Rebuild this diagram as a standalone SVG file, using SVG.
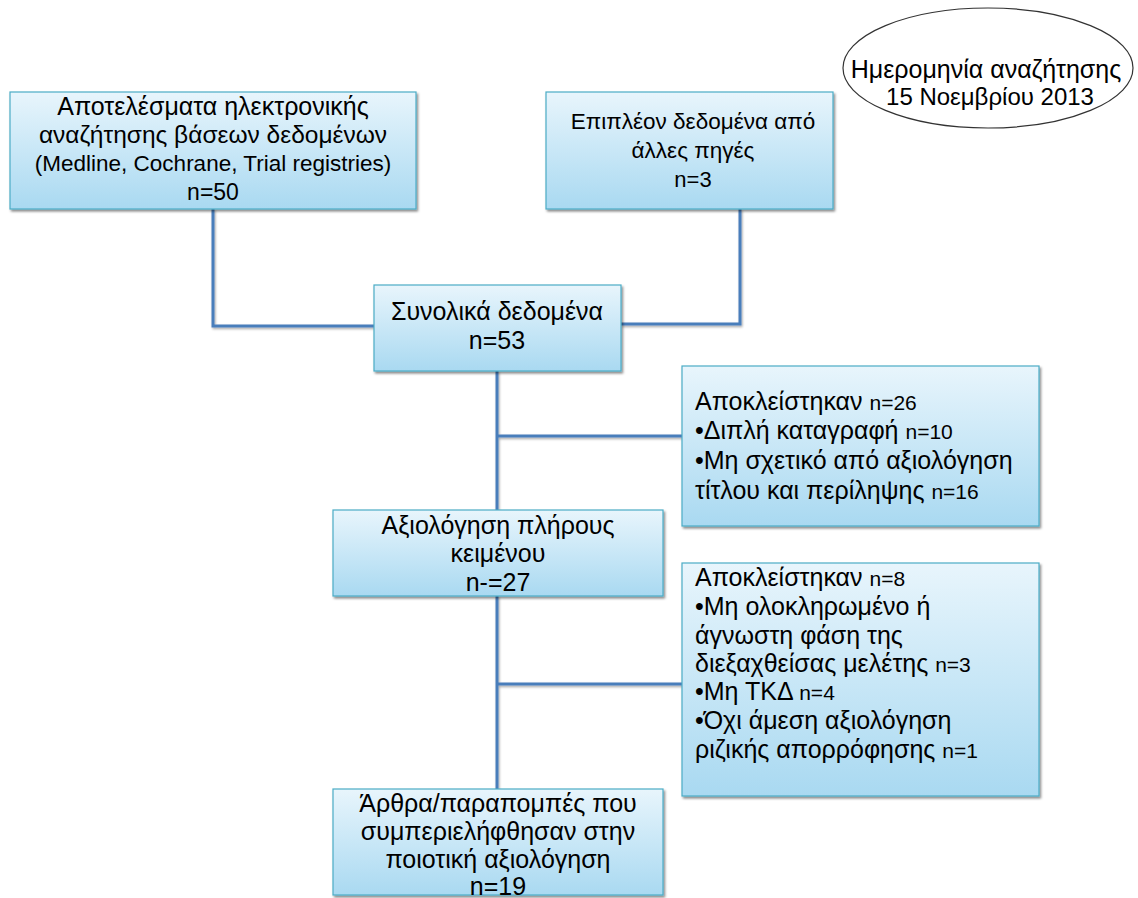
<svg xmlns="http://www.w3.org/2000/svg" width="1138" height="898" viewBox="0 0 1138 898">
  <style>
    .box { fill: url(#boxFill); stroke: #4bacc6; stroke-width: 1.2; filter: url(#shadow); }
    .link { fill: none; stroke: #4a7ebb; stroke-width: 3; }
    text { font-family: "Liberation Sans", Arial, sans-serif; font-size: 25px; fill: #000; }
    .c { text-anchor: middle; }
    .n { font-size: 21px; }
    .small { font-size: 22.5px; }
    .paren { font-size: 22.5px; }
  </style>
  <defs>
    <linearGradient id="boxFill" x1="0" y1="0" x2="0" y2="1">
      <stop offset="0" stop-color="#e8f5fc"/>
      <stop offset="1" stop-color="#a9d9f1"/>
    </linearGradient>
    <filter id="shadow" x="-5%" y="-5%" width="110%" height="115%">
      <feDropShadow dx="1.5" dy="2" stdDeviation="1.2" flood-color="#000" flood-opacity="0.45"/>
    </filter>
    <filter id="lineShadow" filterUnits="userSpaceOnUse" x="0" y="0" width="1138" height="898">
      <feDropShadow dx="1" dy="1.5" stdDeviation="0.8" flood-color="#000" flood-opacity="0.35"/>
    </filter>
  </defs>

  <g id="connectors" filter="url(#lineShadow)">
    <polyline class="link" points="213,209 213,326 374,326"/>
    <polyline class="link" points="740,209 740,324 621,324"/>
    <line class="link" x1="497" y1="371" x2="497" y2="510"/>
    <line class="link" x1="497" y1="436" x2="682" y2="436"/>
    <line class="link" x1="497" y1="596" x2="497" y2="789"/>
    <line class="link" x1="497" y1="684" x2="682" y2="684"/>
  </g>

  <g id="search-date">
    <ellipse cx="988" cy="68" rx="145" ry="60" fill="#fff" stroke="#333" stroke-width="1.2"/>
    <text class="c" x="986" y="78">Ημερομηνία αναζήτησης</text>
    <text class="c" x="990" y="105" style="font-size:24px">15 Νοεμβρίου 2013</text>
  </g>

  <g id="database-results">
    <rect class="box" x="10" y="92" width="406" height="117"/>
    <text class="c" x="213" y="115">Αποτελέσματα ηλεκτρονικής</text>
    <text class="c" x="213" y="143" style="font-size:24.5px">αναζήτησης βάσεων δεδομένων</text>
    <text class="c paren" x="213" y="171">(Medline, Cochrane, Trial registries)</text>
    <text class="c" x="213" y="200" style="font-size:23px">n=50</text>
  </g>

  <g id="other-sources">
    <rect class="box" x="546" y="92" width="287" height="117"/>
    <text class="c small" x="693" y="129">Επιπλέον δεδομένα από</text>
    <text class="c small" x="693" y="158">άλλες πηγές</text>
    <text class="c" x="693" y="187" style="font-size:22px">n=3</text>
  </g>

  <g id="total-records">
    <rect class="box" x="374" y="285" width="247" height="86"/>
    <text class="c" x="497" y="320">Συνολικά δεδομένα</text>
    <text class="c" x="497" y="349">n=53</text>
  </g>

  <g id="excluded-screening">
    <rect class="box" x="682" y="366" width="357" height="160"/>
    <text x="695" y="410">Αποκλείστηκαν <tspan class="n">n=26</tspan></text>
    <text x="695" y="439">•Διπλή καταγραφή <tspan class="n">n=10</tspan></text>
    <text x="695" y="469">•Μη σχετικό από αξιολόγηση</text>
    <text x="695" y="499">τίτλου και περίληψης <tspan class="n">n=16</tspan></text>
  </g>

  <g id="full-text">
    <rect class="box" x="333" y="510" width="330" height="86"/>
    <text class="c" x="498" y="534">Αξιολόγηση πλήρους</text>
    <text class="c" x="498" y="562">κειμένου</text>
    <text class="c" x="498" y="591">n-=27</text>
  </g>

  <g id="excluded-full-text">
    <rect class="box" x="682" y="563" width="357" height="233"/>
    <text x="695" y="586">Αποκλείστηκαν <tspan class="n">n=8</tspan></text>
    <text x="695" y="615">•Μη ολοκληρωμένο ή</text>
    <text x="695" y="644">άγνωστη φάση της</text>
    <text x="695" y="672">διεξαχθείσας μελέτης <tspan class="n">n=3</tspan></text>
    <text x="695" y="700">•Μη ΤΚΔ <tspan class="n">n=4</tspan></text>
    <text x="695" y="729">•Όχι άμεση αξιολόγηση</text>
    <text x="695" y="758">ριζικής απορρόφησης <tspan class="n">n=1</tspan></text>
  </g>

  <g id="included">
    <rect class="box" x="333" y="789" width="330" height="106"/>
    <text class="c" x="498" y="812">Άρθρα/παραπομπές που</text>
    <text class="c" x="498" y="840">συμπεριελήφθησαν στην</text>
    <text class="c" x="498" y="868">ποιοτική αξιολόγηση</text>
    <text class="c" x="498" y="895">n=19</text>
  </g>
</svg>
